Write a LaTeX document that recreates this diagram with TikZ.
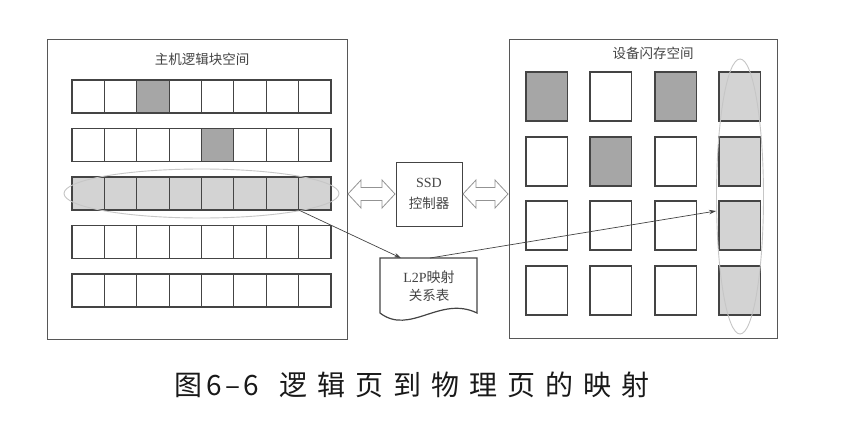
\documentclass[tikz,border=0pt]{standalone}
\usepackage{fontspec}
\setmainfont{Liberation Serif}
\newfontfamily\cjk{Noto Sans CJK SC}
\usetikzlibrary{arrows.meta,calc}
\definecolor{dark}{HTML}{A6A6A6}
\definecolor{light}{HTML}{D3D3D3}
\definecolor{edge}{HTML}{444444}
\newcommand{\cg}{\hspace{10pt}}
\tikzset{
  panel/.style={draw=edge!90, line width=1.3pt, fill=white},
  lcell/.style={draw=edge, line width=1.2pt, minimum width=32.375pt, minimum height=33pt, inner sep=0pt, outer sep=0pt, anchor=north west},
  rcell/.style={draw=edge, line width=1.2pt, minimum width=41.5pt, minimum height=49pt, inner sep=0pt, outer sep=0pt, anchor=north west},
  ttl/.style={font=\cjk\fontsize{13.5}{15}\selectfont, text=edge},
  hollowarrow/.style={draw=gray!85, line width=0.8pt, fill=white, line join=miter},
  link/.style={draw=edge, line width=0.7pt, -{Stealth[length=7pt,width=4.5pt]}},
  ring/.style={draw=gray!45, line width=0.9pt},
}
\begin{document}
\begin{tikzpicture}[x=1pt,y=-1pt]
\useasboundingbox (0,0) rectangle (846,444);
% panels
\node[panel, minimum width=300pt, minimum height=300pt, anchor=north west, inner sep=0pt] (lp) at (47,39) {};
\node[panel, minimum width=268pt, minimum height=299pt, anchor=north west, inner sep=0pt] (rp) at (509,39) {};
\node[ttl] (lt) at (202,59) {主机逻辑块空间};
\node[ttl] (rt) at (653,53) {设备闪存空间};
% left cells
\foreach \r/\y in {1/80,2/128.5,3/177,4/225.5,5/274}{
  \foreach \c in {1,...,8}{
    \pgfmathsetmacro{\xx}{72+(\c-1)*32.375}
    \node[lcell, fill=white] (L-\r-\c) at (\xx,\y) {};
  }
}
\foreach \c in {1,...,8}{ \node[lcell, fill=light] at (L-3-\c.north west) {}; }
\node[lcell, fill=dark] at (L-1-3.north west) {};
\node[lcell, fill=dark] at (L-2-5.north west) {};
\draw[ring] (201.5,193.5) ellipse [x radius=137.5, y radius=24.5];
% right cells
\foreach \r/\y in {1/72,2/137,3/201,4/266}{
  \foreach \c/\x in {1/526,2/590,3/655,4/719}{
    \node[rcell, fill=white] (R-\r-\c) at (\x,\y) {};
  }
}
\foreach \r in {1,...,4}{ \node[rcell, fill=light] at (R-\r-4.north west) {}; }
\node[rcell, fill=dark] at (R-1-1.north west) {};
\node[rcell, fill=dark] at (R-1-3.north west) {};
\node[rcell, fill=dark] at (R-2-2.north west) {};
\draw[ring] (740,196.5) ellipse [x radius=23.5, y radius=137.5];
% SSD controller
\node[draw=edge, line width=1.2pt, minimum width=66pt, minimum height=64pt, anchor=north west, inner sep=0pt] (ssd) at (396,162) {};
\node[font=\fontsize{14}{16}\selectfont, text=edge] (ssdt1) at (429,183) {SSD};
\node[font=\cjk\fontsize{13.5}{15}\selectfont, text=edge] (ssdt2) at (429,203) {控制器};
% double arrows
\draw[hollowarrow] (348,194) -- (361,180) -- (361,187.5) -- (382,187.5) -- (382,180) -- (395,194) -- (382,208) -- (382,200.5) -- (361,200.5) -- (361,208) -- cycle;
\draw[hollowarrow] (463,194) -- (476,180) -- (476,187.5) -- (495,187.5) -- (495,180) -- (508,194) -- (495,208) -- (495,200.5) -- (476,200.5) -- (476,208) -- cycle;
% L2P document
\coordinate (docnw) at (380,258);
\coordinate (docne) at (477,258);
\draw[draw=edge, line width=1.2pt, fill=white] (docnw) -- (docne) -- (477,313) .. controls (440,295) and (410,336) .. (380,313) -- cycle;
\coordinate (docin) at (401,258);
\coordinate (docout) at (430,258);
\node[text=edge, font=\fontsize{14}{16}\selectfont] (doct1) at (429,277) {L2P{\cjk 映射}};
\node[text=edge, font=\cjk\fontsize{13.5}{15}\selectfont] (doct2) at (429,295) {关系表};
% links
\draw[link] (L-3-7.south east) -- (docin);
\draw[link] (docout) -- ([xshift=-3pt,yshift=-10pt]R-3-4.north west);
% caption
\node[font=\cjk\fontsize{28}{30}\selectfont, text=black!90, inner sep=0pt] (cap) at (412,385) {图\hspace{4pt}6\hspace{3pt}–\hspace{3pt}6\hspace{20pt}逻\cg 辑\cg 页\cg 到\cg 物\cg 理\cg 页\cg 的\cg 映\cg 射};
\end{tikzpicture}
\end{document}
